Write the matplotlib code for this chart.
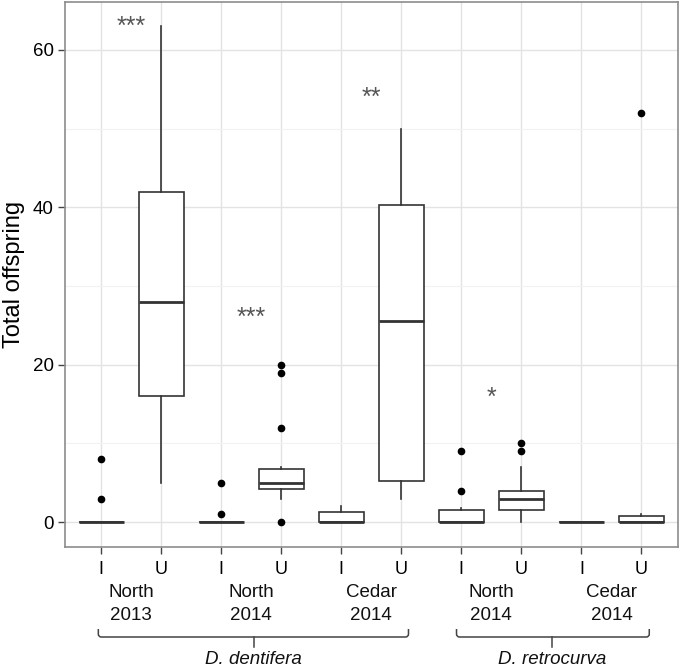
import matplotlib
matplotlib.use("Agg")
import matplotlib.pyplot as plt
from matplotlib.transforms import blended_transform_factory
from matplotlib.path import Path
from matplotlib.patches import PathPatch

plt.rcParams['font.family'] = ['Liberation Sans', 'DejaVu Sans']

# ---- data ----
treatments = ["I", "U", "I", "U", "I", "U", "I", "U", "I", "U"]
groups = ["North\n2013", "North\n2014", "Cedar\n2014", "North\n2014", "Cedar\n2014"]
species = ["D. dentifera", "D. retrocurva"]
q1 = [0, 16, 0, 4.25, 0, 5.25, 0, 1.5, 0, 0]
med = [0, 28, 0, 5, 0, 25.5, 0, 3, 0, 0]
q3 = [0, 42, 0, 6.75, 1.25, 40.25, 1.5, 4, 0, 0.75]
whislo = [0, 5, 0, 3, 0, 3, 0, 0, 0, 0]
whishi = [0, 63, 0, 7, 2, 50, 1.75, 7, 0, 1]
outliers = [[8, 3], [], [5, 1], [20, 19, 12, 0], [], [], [9, 4], [10, 9], [], [52]]
sig_labels = ["***", "***", "**", "*"]
sig_x = [1.5, 3.5, 5.5, 7.5]
sig_y = [62.9, 26.0, 53.9, 15.8]

W, H = 680, 667
fig = plt.figure(figsize=(W / 100, H / 100), dpi=100)
ax = fig.add_axes([65 / W, 1 - 547 / H, (677.5 - 65) / W, (547 - 1.5) / H])

positions = list(range(1, len(treatments) + 1))
stats = []
for i in range(len(treatments)):
    stats.append(dict(q1=q1[i], med=med[i], q3=q3[i], whislo=whislo[i],
                      whishi=whishi[i], fliers=outliers[i]))

lc = "#333333"
ax.bxp(stats, positions=positions, widths=0.75, showcaps=False,
       patch_artist=True,
       boxprops=dict(facecolor="white", edgecolor=lc, linewidth=1.2),
       medianprops=dict(color=lc, linewidth=2.0),
       whiskerprops=dict(color=lc, linewidth=1.2),
       flierprops=dict(marker="o", markerfacecolor="black", markeredgecolor="black",
                       markersize=4.5, linestyle="none"),
       zorder=3)

ax.set_xlim(0.4, 10.6)
ax.set_ylim(-3.15, 66.15)
ax.set_yticks([0, 20, 40, 60])
ax.set_yticks([10, 30, 50], minor=True)
ax.set_xticks(positions)
ax.set_xticklabels(treatments, fontsize=13)
ax.tick_params(axis="y", labelsize=13.5, length=5, width=1, color="#444444", pad=3)
ax.tick_params(axis="x", length=5, width=1, color="#444444", pad=5)
ax.tick_params(axis="y", which="minor", length=0)
ax.grid(True, which="major", color="#e3e3e3", linewidth=1.0, zorder=0)
ax.grid(True, which="minor", axis="y", color="#f2f2f2", linewidth=0.8, zorder=0)
ax.set_axisbelow(True)
for s in ax.spines.values():
    s.set_color("#8c8c8c")
    s.set_linewidth(1.2)

ax.set_ylabel("Total offspring", fontsize=17)
ax.yaxis.set_label_coords(-0.066, 0.5)

for lab, x, y in zip(sig_labels, sig_x, sig_y):
    ax.text(x, y, lab, ha="center", va="center", fontsize=18, color="#555555")

# group labels
tr = blended_transform_factory(ax.transData, fig.transFigure)
group_centers = [1.5, 3.5, 5.5, 7.5, 9.5]
for g, xc in zip(groups, group_centers):
    ax.text(xc, 1 - 604 / H, g, transform=tr, ha="center", va="center",
            fontsize=13.5, linespacing=1.45, color="#111111")

# braces
def brace(x0, x1, xm):
    yb = 1 - 637 / H
    yt = 1 - 629 / H
    yd = 1 - 647 / H
    r = 3 / H
    dx = 0.05
    verts = [(x0, yt), (x0, yb + r), (x0, yb), (x0 + dx, yb), (x1 - dx, yb),
             (x1, yb), (x1, yb + r), (x1, yt)]
    codes = [Path.MOVETO, Path.LINETO, Path.CURVE3, Path.CURVE3, Path.LINETO,
             Path.CURVE3, Path.CURVE3, Path.LINETO]
    fig.add_artist(PathPatch(Path(verts, codes), transform=tr, fill=False,
                             edgecolor="#444444", linewidth=1.1, clip_on=False))
    fig.add_artist(plt.Line2D([xm, xm], [yb, yd], transform=tr, color="#444444",
                              linewidth=1.1, clip_on=False))

brace(0.955, 6.12, 3.54)
brace(6.92, 10.13, 8.51)
ax.text(3.54, 1 - 659 / H, species[0], transform=tr, ha="center", va="center",
        fontsize=13.5, style="italic", color="#111111")
ax.text(8.51, 1 - 659 / H, species[1], transform=tr, ha="center", va="center",
        fontsize=13.5, style="italic", color="#111111")

fig.savefig("out.png", dpi=100)
